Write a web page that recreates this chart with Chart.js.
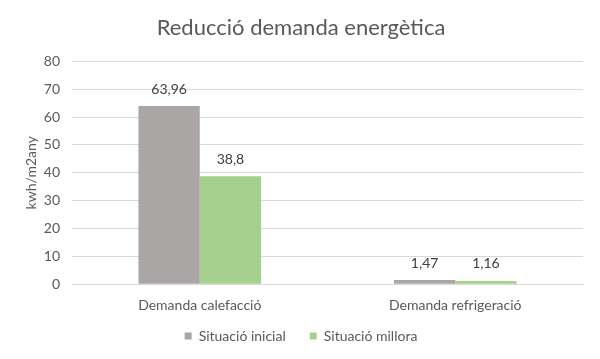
<!DOCTYPE html>
<html><head><meta charset="utf-8">
<script src="https://cdn.jsdelivr.net/npm/chart.js@4/dist/chart.umd.min.js"></script>
<style>html,body{margin:0;padding:0;background:#fff}#wrap{width:600px;height:359px}</style>
</head><body><div id="wrap"><canvas id="c"></canvas></div>
<script>
const categories = ["Demanda calefacció", "Demanda refrigeració"];
const seriesNames = ["Situació inicial", "Situació millora"];
const inicial = [63.96, 1.47];
const millora = [38.8, 1.16];
const yTicks = [0, 10, 20, 30, 40, 50, 60, 70, 80];

const FONT = "Lato, 'Open Sans', sans-serif";
const labelPlugin = {
  id: 'vals',
  afterDatasetsDraw(chart) {
    const ctx = chart.ctx;
    ctx.save();
    ctx.font = "14px " + FONT;
    ctx.fillStyle = "#404040";
    ctx.textAlign = "center";
    ctx.textBaseline = "bottom";
    chart.data.datasets.forEach((ds, i) => {
      chart.getDatasetMeta(i).data.forEach((bar, j) => {
        const v = ds.data[j];
        ctx.fillText(String(v).replace('.', ','), bar.x, bar.y - 10);
      });
    });
    ctx.restore();
  }
};

new Chart(document.getElementById('c'), {
  type: 'bar',
  data: {
    labels: categories,
    datasets: [
      { label: seriesNames[0], data: inicial, backgroundColor: '#aaa6a6' },
      { label: seriesNames[1], data: millora, backgroundColor: '#a6d08d' }
    ]
  },
  options: {
    responsive: true,
    maintainAspectRatio: false,
    animation: false,
    devicePixelRatio: 1,
    layout: { padding: { left: 19, right: 17, top: 15, bottom: 6 } },
    datasets: { bar: { categoryPercentage: 0.48, barPercentage: 1.0 } },
    plugins: {
      title: { display: true, text: 'Reducció demanda energètica', color: '#595959',
        font: { family: FONT, size: 22, weight: 'normal' }, padding: { top: 0, bottom: 20 } },
      legend: { position: 'bottom', labels: { color: '#595959', boxWidth: 7, boxHeight: 7,
        font: { family: FONT, size: 14 }, padding: 10,
        generateLabels(chart) {
          const items = Chart.defaults.plugins.legend.labels.generateLabels(chart);
          items.forEach((it, i) => { if (i < items.length - 1) it.text = it.text + '\u2002\u2002'; });
          return items;
        } } },
      tooltip: { enabled: false }
    },
    scales: {
      x: {
        grid: { display: false },
        border: { color: '#d9d9d9' },
        ticks: { color: '#595959', font: { family: FONT, size: 14 }, padding: 5 }
      },
      y: {
        min: 0, max: 80,
        afterBuildTicks(axis) { axis.ticks = yTicks.map(v => ({ value: v })); },
        grid: { color: '#d9d9d9', drawTicks: false },
        border: { display: false },
        ticks: { color: '#595959', font: { family: FONT, size: 14 }, padding: 12 },
        title: { display: true, text: 'kwh/m2any', color: '#595959', font: { family: FONT, size: 14 }, padding: { top: 4, bottom: -8 } }
      }
    }
  },
  plugins: [labelPlugin]
});
</script></body></html>
